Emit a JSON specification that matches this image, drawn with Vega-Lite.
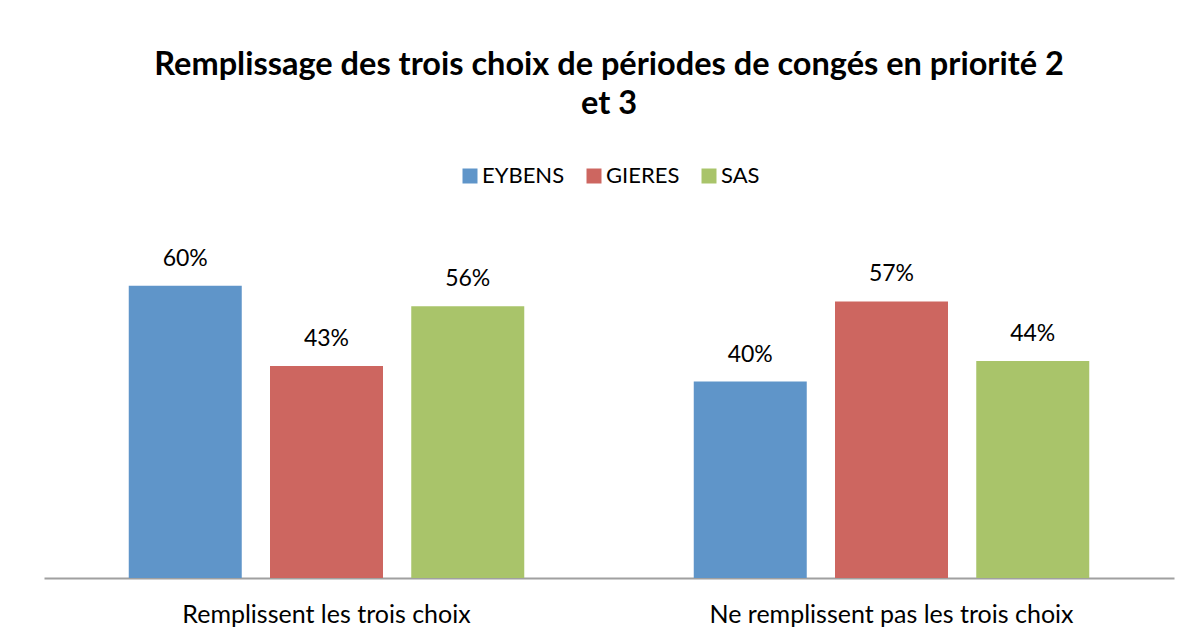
{
  "$schema": "https://vega.github.io/schema/vega-lite/v6.json",
  "width": 1130,
  "height": 342,
  "autosize": {"type": "none"},
  "padding": {"left": 44, "top": 236, "right": 23, "bottom": 60},
  "background": "white",
  "title": {
    "text": ["Remplissage des trois choix de périodes de congés en priorité 2", "et 3"],
    "anchor": "middle",
    "frame": "group",
    "font": "Lato",
    "fontSize": 32.5,
    "fontWeight": "bold",
    "color": "#000000",
    "lineHeight": 39,
    "baseline": "alphabetic",
    "offset": 19
  },
  "data": {
    "values": [
      {"group": "Remplissent les trois choix", "city": "EYBENS", "value": 0.598},
      {"group": "Remplissent les trois choix", "city": "GIERES", "value": 0.434},
      {"group": "Remplissent les trois choix", "city": "SAS", "value": 0.556},
      {"group": "Ne remplissent pas les trois choix", "city": "EYBENS", "value": 0.402},
      {"group": "Ne remplissent pas les trois choix", "city": "GIERES", "value": 0.566},
      {"group": "Ne remplissent pas les trois choix", "city": "SAS", "value": 0.444}
    ]
  },
  "encoding": {
    "x": {
      "field": "group",
      "type": "nominal",
      "sort": ["Remplissent les trois choix", "Ne remplissent pas les trois choix"],
      "scale": {"paddingInner": 0.3, "paddingOuter": 0.15},
      "title": null,
      "axis": {
        "labelAngle": 0,
        "labelFont": "Lato",
        "labelFontSize": 25,
        "labelColor": "#000000",
        "labelBaseline": "alphabetic",
        "labelPadding": 44,
        "labelLimit": 0,
        "ticks": false,
        "tickSize": 0,
        "domainColor": "#A0A0A0",
        "domainWidth": 2,
        "grid": false
      }
    },
    "xOffset": {
      "field": "city",
      "type": "nominal",
      "sort": ["EYBENS", "GIERES", "SAS"],
      "scale": {"paddingInner": 0.2, "paddingOuter": 0}
    },
    "y": {
      "field": "value",
      "type": "quantitative",
      "scale": {"domain": [0, 0.7], "nice": false},
      "axis": null
    }
  },
  "layer": [
    {
      "mark": {"type": "bar"},
      "encoding": {
        "color": {
          "field": "city",
          "type": "nominal",
          "sort": ["EYBENS", "GIERES", "SAS"],
          "scale": {"domain": ["EYBENS", "GIERES", "SAS"], "range": ["#5F95C9", "#CD6660", "#A9C46A"]},
          "legend": {
            "title": null,
            "orient": "none",
            "legendX": 415,
            "legendY": -71,
            "direction": "horizontal",
            "symbolType": "square",
            "symbolSize": 225,
            "symbolStrokeWidth": 0,
            "labelFont": "Lato",
            "labelFontSize": 22,
            "labelColor": "#000000",
            "labelOffset": 1,
            "columnPadding": 18
          }
        }
      }
    },
    {
      "mark": {"type": "text", "baseline": "alphabetic", "dy": -20, "font": "Lato", "fontSize": 23, "color": "#000000"},
      "encoding": {
        "text": {"field": "value", "type": "quantitative", "format": ".0%"}
      }
    }
  ],
  "config": {"view": {"stroke": null}}
}
